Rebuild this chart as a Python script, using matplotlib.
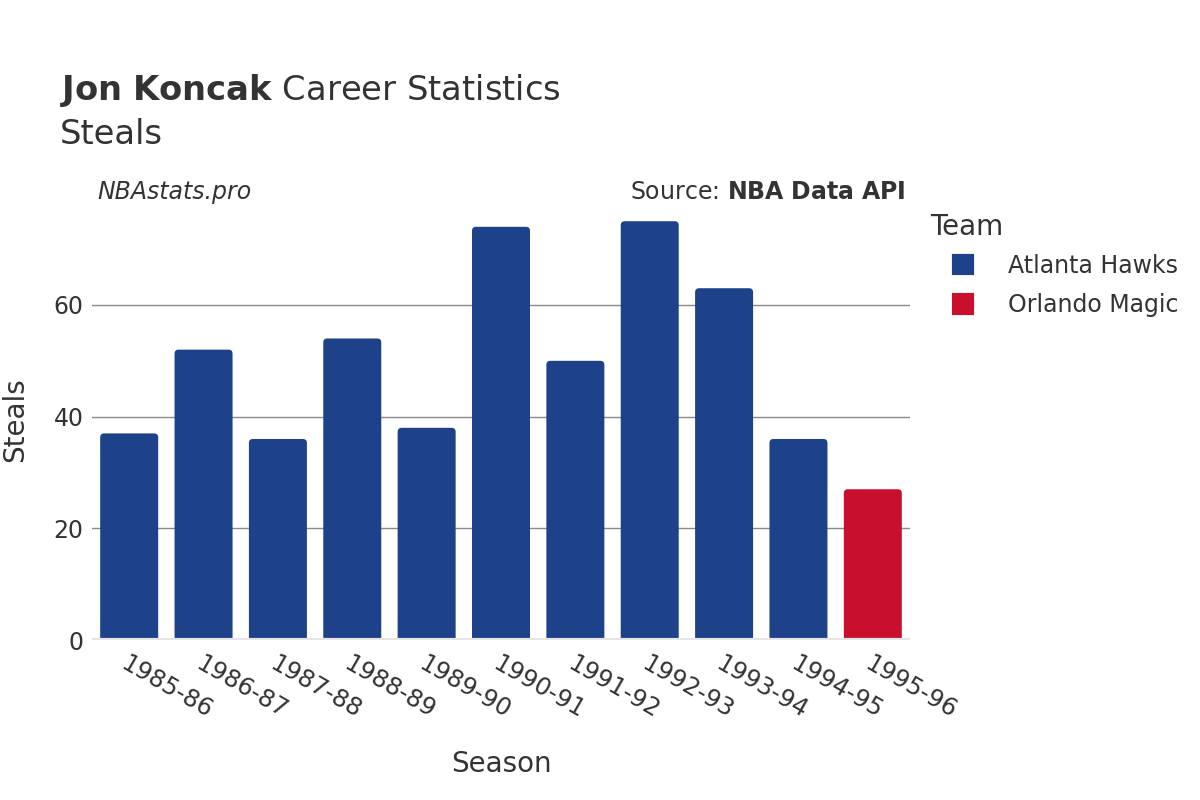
import matplotlib
matplotlib.use("Agg")
import matplotlib.pyplot as plt
from matplotlib.patches import FancyBboxPatch, Patch

# data
seasons = ["1985-86", "1986-87", "1987-88", "1988-89", "1989-90", "1990-91",
           "1991-92", "1992-93", "1993-94", "1994-95", "1995-96"]
steals = [37, 52, 36, 54, 38, 74, 50, 75, 63, 36, 27]
teams = ["Atlanta Hawks"] * 10 + ["Orlando Magic"]
team_colors = {"Atlanta Hawks": "#1d428a", "Orlando Magic": "#c8102e"}

W, H = 1200, 800
fig = plt.figure(figsize=(12, 8), dpi=100)
plt.rcParams["font.family"] = ["DejaVu Sans"]
txt = "#333333"

# axes placed in pixel coordinates: x 92..910, y 200..640
ax = fig.add_axes([92 / W, 1 - 640 / H, (910 - 92) / W, 440 / H])
ax.set_xlim(-0.5, len(seasons) - 0.5)
ax.set_ylim(0, 78.8)

bw = 0.78
px_x = 818 / len(seasons)         # px per x unit
px_y = 440 / 78.8                 # px per y unit
aspect = px_x / px_y
r = 4 / px_x
for i, (v, t) in enumerate(zip(steals, teams)):
    c = team_colors[t]
    # start below zero so the rounded bottom corners are clipped away
    box = FancyBboxPatch((i - bw / 2, -3), bw, v + 3,
                         boxstyle="round,pad=0,rounding_size=%f" % r,
                         mutation_aspect=aspect, facecolor=c, edgecolor="none", zorder=3)
    ax.add_patch(box)

# grid and zero line
for g in [20, 40, 60]:
    ax.axhline(g, color="#8a8a8a", lw=1, zorder=1)
ax.axhline(0, color="#e6e6e6", lw=3, zorder=4)

for s in ax.spines.values():
    s.set_visible(False)
ax.set_yticks([0, 20, 40, 60])
ax.tick_params(axis="y", length=0, pad=6, labelsize=17, labelcolor=txt)
ax.set_xticks(range(len(seasons)))
ax.set_xticklabels(seasons, rotation=-30, ha="left", va="top",
                   rotation_mode="anchor", fontsize=17.5, color=txt)
ax.tick_params(axis="x", length=0, pad=8)

ax.set_ylabel("Steals", fontsize=20, color=txt, labelpad=18)
ax.set_xlabel("Season", fontsize=20, color=txt, labelpad=20)

def fx(x):
    return x / W

def fy(y):
    return 1 - y / H

fig.text(fx(60), fy(100), r"$\bf{Jon\ Koncak}$" + " Career Statistics",
         fontsize=24.3, color=txt, ha="left", va="baseline")
fig.text(fx(60), fy(144), "Steals", fontsize=24.3, color=txt, ha="left", va="baseline")
fig.text(fx(97), fy(192), "NBAstats.pro", fontsize=17, style="italic",
         color=txt, ha="left", va="center")
fig.text(fx(906), fy(192), "Source: " + r"$\bf{NBA\ Data\ API}$", fontsize=17,
         color=txt, ha="right", va="center")

# legend
fig.text(fx(930), fy(227), "Team", fontsize=20, color=txt, ha="left", va="center")
handles = [Patch(facecolor=team_colors[t], edgecolor=team_colors[t], linewidth=3,
                 joinstyle="round", label=t) for t in team_colors]
leg = fig.legend(handles=handles, loc="upper left",
                 bbox_to_anchor=(fx(954), fy(254)), frameon=False,
                 fontsize=17, handlelength=0.75, handleheight=0.75,
                 handletextpad=1.55, labelspacing=0.65, borderpad=0, borderaxespad=0)
for t in leg.get_texts():
    t.set_color(txt)

fig.savefig("out.png", dpi=100, facecolor="white")
